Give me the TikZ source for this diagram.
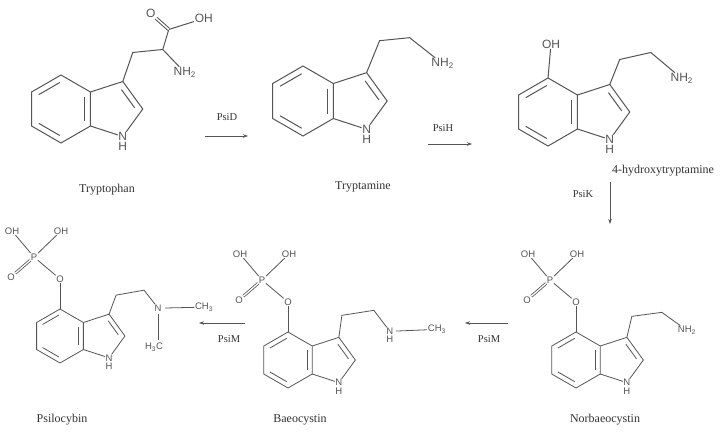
\documentclass[tikz,border=0pt]{standalone}
\usepackage{fontspec}
\setmainfont{Liberation Serif}
\setsansfont{Liberation Sans}
\usetikzlibrary{calc,arrows.meta,positioning}
\definecolor{bond}{HTML}{555555}
\definecolor{txt}{HTML}{333333}
\tikzset{
  bd/.style={draw=bond,line width=1pt},
  sbd/.style={draw=bond,line width=0.8pt},
  atomlbl/.style={font=\sffamily\fontsize{12}{12}\selectfont,text=bond,inner sep=0.5pt},
  satomlbl/.style={font=\sffamily\fontsize{9.5}{9.5}\selectfont,text=bond,inner sep=0.5pt},
  molname/.style={font=\fontsize{12}{12}\selectfont,text=txt,inner sep=0pt},
  enz/.style={font=\fontsize{10.5}{10.5}\selectfont,text=txt,inner sep=0pt},
  rx/.style={draw=bond,line width=0.7pt,-{Stealth[length=5pt,width=3.5pt]}}
}
% \indole{prefix}{cx}{cy}{b}{linestyle}{atomstyle}
\newcommand{\indole}[6]{%
  \pgfmathsetmacro{\pcx}{#2+1.554*#4}%
  \pgfmathsetmacro{\pR}{0.851*#4}%
  \path (#2,#3) coordinate (#1-c)
    +(-90:#4) coordinate (#1-4)
    +(-150:#4) coordinate (#1-5)
    +(-210:#4) coordinate (#1-6)
    +(-270:#4) coordinate (#1-7)
    +(-330:#4) coordinate (#1-7a)
    +(-30:#4) coordinate (#1-3a);
  \path (\pcx,#3) coordinate (#1-pc)
    +(-72:\pR) coordinate (#1-3)
    +(0:\pR) coordinate (#1-2)
    +(72:\pR) node[#6] (#1-N) {N};
  \node[#6,below=0.3pt of #1-N] (#1-H) {H};
  \draw[#5] (#1-4)--(#1-5)--(#1-6)--(#1-7)--(#1-7a)--(#1-3a)--cycle;
  \draw[#5] (#1-3a)--(#1-3)--(#1-2)--(#1-N)--(#1-7a);
  \draw[#5,shorten <=1.5pt,shorten >=1.5pt] ($(#1-c)!0.8!(#1-4)$)--($(#1-c)!0.8!(#1-5)$);
  \draw[#5,shorten <=1.5pt,shorten >=1.5pt] ($(#1-c)!0.8!(#1-6)$)--($(#1-c)!0.8!(#1-7)$);
  \draw[#5,shorten <=1.5pt,shorten >=1.5pt] ($(#1-c)!0.8!(#1-3a)$)--($(#1-c)!0.8!(#1-7a)$);
  \draw[#5,shorten <=1.5pt,shorten >=1.5pt] ($(#1-pc)!0.75!(#1-3)$)--($(#1-pc)!0.75!(#1-2)$);
}
\newcommand{\phos}[1]{%
  \node[satomlbl] (#1-O) at ($(#1-4)+(0,-30)$) {O};
  \node[satomlbl] (#1-P) at ($(#1-4)+(-26,-52)$) {P};
  \node[satomlbl] (#1-OHa) at ($(#1-4)+(-48,-78)$) {OH};
  \node[satomlbl] (#1-OHb) at ($(#1-4)+(1,-78)$) {OH};
  \node[satomlbl] (#1-Od) at ($(#1-4)+(-49,-32)$) {O};
  \draw[sbd] (#1-4)--(#1-O);
  \draw[sbd] (#1-O)--(#1-P);
  \draw[sbd] (#1-P)--(#1-OHa);
  \draw[sbd] (#1-P)--(#1-OHb);
  \draw[sbd,double,double distance=1.3pt] (#1-P)--(#1-Od);
}
\begin{document}
\begin{tikzpicture}[x=1pt,y=-1pt]
\useasboundingbox (0,0) rectangle (728,432);
\fill[white] (0,0) rectangle (728,432);

% Tryptophan
\indole{a}{61}{109}{34}{bd}{atomlbl}
\coordinate (a-c1) at ($(a-3)+(10,-29)$);
\coordinate (a-c2) at ($(a-3)+(40,-32)$);
\coordinate (a-c3) at ($(a-3)+(46,-52)$);
\node[atomlbl] (a-O) at ($(a-3)+(28,-68)$) {O};
\node[atomlbl] (a-OH) at ($(a-3)+(81,-63)$) {OH};
\node[atomlbl] (a-NH) at ($(a-3)+(62,-9)$) {NH\textsubscript{2}};
\draw[bd] (a-3)--(a-c1)--(a-c2)--(a-c3)--(a-OH);
\draw[bd,double,double distance=1.5pt] (a-c3)--(a-O);
\draw[bd] (a-c2)--(a-NH);
\node[molname] (n1) at (107,190) {Tryptophan};

% Tryptamine
\indole{b}{303}{101}{35}{bd}{atomlbl}
\coordinate (b-c1) at ($(b-3)+(13,-32)$);
\coordinate (b-c2) at ($(b-3)+(43,-35)$);
\node[atomlbl] (b-NH) at ($(b-3)+(76,-9)$) {NH\textsubscript{2}};
\draw[bd] (b-3)--(b-c1)--(b-c2)--(b-NH);
\node[molname] (n2) at (363,187) {Tryptamine};

% 4-hydroxytryptamine
\indole{h}{548}{112}{34}{bd}{atomlbl}
\node[atomlbl] (h-OH) at ($(h-4)+(3,-34)$) {OH};
\draw[bd] (h-4)--(h-OH);
\coordinate (h-c1) at ($(h-3)+(10,-25)$);
\coordinate (h-c2) at ($(h-3)+(41,-32)$);
\node[atomlbl] (h-NH) at ($(h-3)+(72,-6)$) {NH\textsubscript{2}};
\draw[bd] (h-3)--(h-c1)--(h-c2)--(h-NH);
\node[molname] (n3) at (663,171) {4-hydroxytryptamine};

% Norbaeocystin
\indole{r}{576}{360}{28}{sbd}{satomlbl}
\phos{r}
\coordinate (r-c1) at ($(r-3)+(5,-21)$);
\coordinate (r-c2) at ($(r-3)+(35,-25)$);
\node[satomlbl] (r-NH) at ($(r-3)+(60,-7)$) {NH\textsubscript{2}};
\draw[sbd] (r-3)--(r-c1)--(r-c2)--(r-NH);
\node[molname] (n4) at (605,420) {Norbaeocystin};

% Baeocystin
\indole{e}{288}{360}{28}{sbd}{satomlbl}
\phos{e}
\coordinate (e-c1) at ($(e-3)+(3,-22)$);
\coordinate (e-c2) at ($(e-3)+(35,-27)$);
\node[satomlbl] (e-N) at ($(e-3)+(51,-6)$) {N};
\node[satomlbl,below=0.3pt of e-N] (e-H) {H};
\node[satomlbl] (e-CH) at ($(e-3)+(98,-8)$) {CH\textsubscript{3}};
\draw[sbd] (e-3)--(e-c1)--(e-c2)--(e-N);
\draw[sbd,shorten <=2pt] (e-N)--(e-CH);
\node[molname] (n5) at (300,420) {Baeocystin};

% Psilocybin
\indole{s}{60}{336}{27}{sbd}{satomlbl}
\phos{s}
\coordinate (s-c1) at ($(s-3)+(7,-19)$);
\coordinate (s-c2) at ($(s-3)+(35,-24)$);
\node[satomlbl] (s-N) at ($(s-3)+(49,-6)$) {N};
\node[satomlbl] (s-CH) at ($(s-3)+(95,-7)$) {CH\textsubscript{3}};
\node[satomlbl] (s-HC) at ($(s-3)+(45,33)$) {H\textsubscript{3}C};
\draw[sbd] (s-3)--(s-c1)--(s-c2)--(s-N);
\draw[sbd,shorten <=3pt] (s-N)--(s-CH);
\draw[sbd,shorten <=2pt,shorten >=2pt] (s-N)--(s-N|-s-HC.north);
\node[molname] (n6) at (62,420) {Psilocybin};

% reactions
\coordinate (r1a) at (205,136); \coordinate (r1b) at (248,136);
\draw[rx] (r1a)--(r1b);
\node[enz] (e1) at (227,117) {PsiD};
\coordinate (r2a) at (428,144); \coordinate (r2b) at (472,144);
\draw[rx] (r2a)--(r2b);
\node[enz] (e2) at (443,128) {PsiH};
\coordinate (r3a) at (610,182); \coordinate (r3b) at (610,224);
\draw[rx] (r3a)--(r3b);
\node[enz] (e3) at (583,194) {PsiK};
\coordinate (r4a) at (508,323); \coordinate (r4b) at (465,323);
\draw[rx] (r4a)--(r4b);
\node[enz] (e4) at (489,339) {PsiM};
\coordinate (r5a) at (245,323); \coordinate (r5b) at (199,323);
\draw[rx] (r5a)--(r5b);
\node[enz] (e5) at (229,339) {PsiM};
\end{tikzpicture}
\end{document}
